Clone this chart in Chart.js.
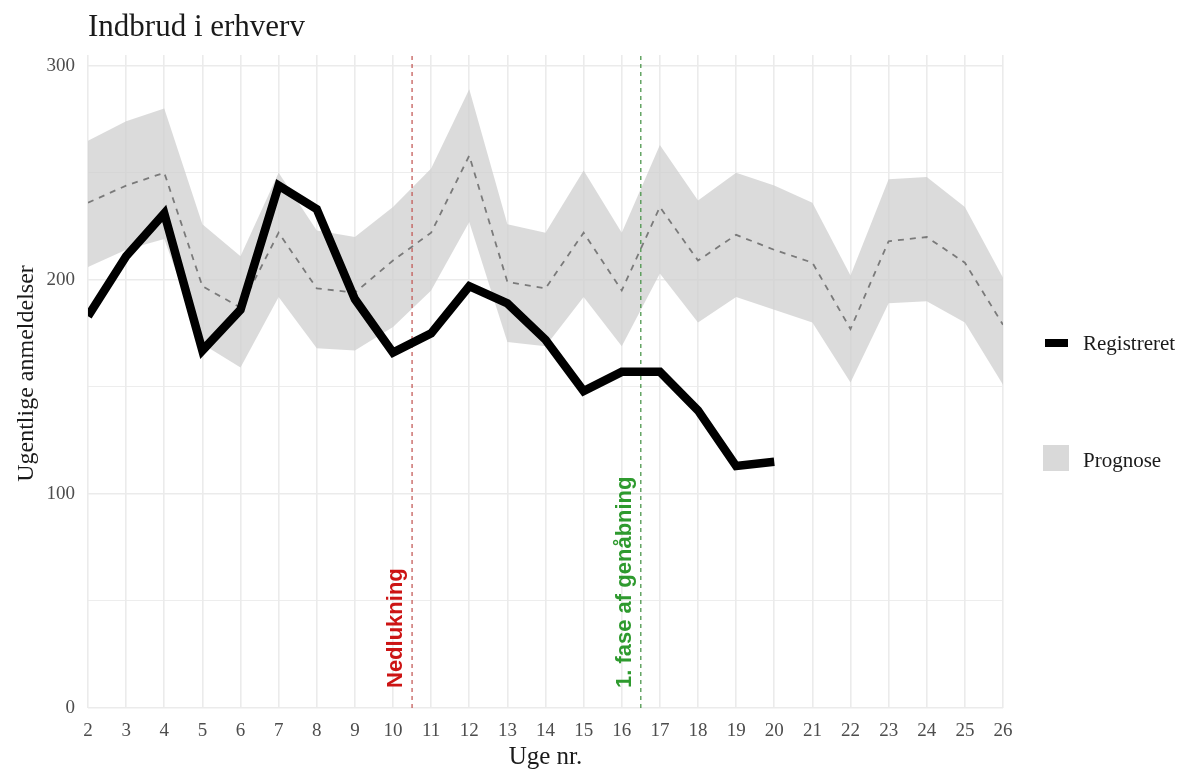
<!DOCTYPE html>
<html>
<head>
<meta charset="utf-8">
<title>Indbrud i erhverv</title>
<script src="https://cdn.jsdelivr.net/npm/chart.js@4.4.1/dist/chart.umd.min.js"></script>
<style>
    html, body { margin: 0; padding: 0; background: #ffffff; }
    #wrap { width: 1180px; height: 769px; }
</style>
</head>
<body>
<div id="wrap"><canvas id="chart" width="1180" height="769"></canvas></div>
<script>
// week numbers on the x axis
const weeks = [2, 3, 4, 5, 6, 7, 8, 9, 10, 11, 12, 13, 14, 15, 16, 17, 18, 19, 20, 21, 22, 23, 24, 25, 26];

// registered weekly reports (weeks 2-20)
const registered = [183, 211, 231, 167, 186, 244, 233, 191, 166, 175, 197, 189, 172, 148, 157, 157, 139, 113, 115];

// forecast (dashed) with its upper / lower band
const forecast = [236, 244, 250, 197, 187, 222, 196, 194, 209, 222, 258, 199, 196, 222, 195, 234, 209, 221, 214, 208, 177, 218, 220, 208, 179];
const upper    = [265, 274, 280, 226, 211, 250, 223, 220, 234, 252, 289, 226, 222, 251, 222, 263, 237, 250, 244, 236, 202, 247, 248, 234, 201];
const lower    = [206, 214, 219, 170, 159, 192, 168, 167, 178, 195, 227, 171, 169, 192, 169, 203, 180, 192, 186, 180, 152, 189, 190, 180, 151];

// y axis ticks and range
const yTicks = [0, 50, 100, 150, 200, 250, 300];
const yMax = 305;

// event markers
const events = [
    { week: 10.5, label: 'Nedlukning', color: '#cc1414', line: '#c0504d' },
    { week: 16.5, label: '1. fase af genåbning', color: '#2e9a2e', line: '#3f8f3f' }
];

const serif = '"Liberation Serif", "Times New Roman", serif';
const sans = '"Liberation Sans", Arial, sans-serif';

function pts(values) {
    return values.map((v, i) => ({ x: weeks[i], y: v }));
}

const datasets = [
    {
        label: 'Registreret',
        data: pts(registered),
        borderColor: '#000000',
        borderWidth: 8.5,
        borderJoinStyle: 'miter',
        borderCapStyle: 'butt',
        pointRadius: 0,
        fill: false,
        order: 0
    },
    {
        label: 'forecast',
        data: pts(forecast),
        borderColor: '#7a7a7a',
        borderWidth: 1.8,
        borderDash: [6, 6],
        pointRadius: 0,
        fill: false,
        order: 1
    },
    {
        label: 'upper',
        data: pts(upper),
        borderWidth: 0,
        borderColor: 'rgba(0,0,0,0)',
        backgroundColor: 'rgba(205,205,205,0.72)',
        pointRadius: 0,
        fill: '+1',
        order: 4
    },
    {
        label: 'lower',
        data: pts(lower),
        borderWidth: 0,
        borderColor: 'rgba(0,0,0,0)',
        pointRadius: 0,
        fill: false,
        order: 5
    }
];

events.forEach(ev => {
    datasets.push({
        label: ev.label,
        data: [{ x: ev.week, y: 0 }, { x: ev.week, y: yMax }],
        borderColor: ev.line,
        borderWidth: 1.2,
        borderDash: [4, 4],
        pointRadius: 0,
        fill: false,
        order: 2
    });
});

const decorations = {
    id: 'decorations',
    afterDraw(chart) {
        const ctx = chart.ctx;
        const area = chart.chartArea;
        const xs = chart.scales.x;
        const ys = chart.scales.y;
        ctx.save();

        // title
        ctx.fillStyle = '#1a1a1a';
        ctx.font = '31px ' + serif;
        ctx.textAlign = 'left';
        ctx.textBaseline = 'alphabetic';
        ctx.fillText('Indbrud i erhverv', 88, 36);

        // axis titles
        ctx.font = '25px ' + serif;
        ctx.textAlign = 'center';
        ctx.fillText('Uge nr.', (area.left + area.right) / 2, 764);
        ctx.save();
        ctx.font = '24px ' + serif;
        ctx.translate(33, (area.top + area.bottom) / 2 - 8);
        ctx.rotate(-Math.PI / 2);
        ctx.textBaseline = 'alphabetic';
        ctx.fillText('Ugentlige anmeldelser', 0, 0);
        ctx.restore();

        // event labels
        ctx.font = 'bold 22px ' + sans;
        events.forEach(ev => {
            const px = xs.getPixelForValue(ev.week) - 16;
            const py = ys.getPixelForValue(0) - 20;
            ctx.save();
            ctx.translate(px, py);
            ctx.rotate(-Math.PI / 2);
            ctx.fillStyle = ev.color;
            ctx.textAlign = 'left';
            ctx.textBaseline = 'middle';
            ctx.fillText(ev.label, 0, 0);
            ctx.restore();
        });

        // legend
        ctx.fillStyle = '#000000';
        ctx.fillRect(1045, 339, 23, 8);
        ctx.fillStyle = '#d9d9d9';
        ctx.fillRect(1043, 445, 26, 26);
        ctx.fillStyle = '#1a1a1a';
        ctx.font = '21px ' + serif;
        ctx.textAlign = 'left';
        ctx.textBaseline = 'middle';
        ctx.fillText('Registreret', 1083, 344);
        ctx.fillText('Prognose', 1083, 461);

        ctx.restore();
    }
};

new Chart(document.getElementById('chart'), {
    type: 'line',
    data: { datasets },
    options: {
        responsive: false,
        animation: false,
        devicePixelRatio: 1,
        layout: { padding: { top: 55, right: 177, left: 0, bottom: 0 } },
        plugins: {
            legend: { display: false },
            title: { display: false },
            tooltip: { enabled: false }
        },
        scales: {
            x: {
                type: 'linear',
                min: weeks[0],
                max: weeks[weeks.length - 1],
                afterBuildTicks: scale => { scale.ticks = weeks.map(w => ({ value: w })); },
                afterFit: scale => { scale.height = 61; },
                border: { display: false },
                grid: { color: '#ebebeb', lineWidth: 1.6, drawTicks: false },
                ticks: {
                    padding: 12,
                    maxRotation: 0,
                    autoSkip: false,
                    color: '#4d4d4d',
                    font: { family: serif, size: 19 }
                }
            },
            y: {
                min: 0,
                max: yMax,
                afterBuildTicks: scale => { scale.ticks = yTicks.map(v => ({ value: v })); },
                afterFit: scale => { scale.width = 88; },
                border: { display: false },
                grid: {
                    color: '#ebebeb',
                    lineWidth: c => (c.tick && c.tick.value % 100 === 0) ? 1.6 : 0.9,
                    drawTicks: false
                },
                ticks: {
                    padding: 13,
                    color: '#4d4d4d',
                    font: { family: serif, size: 19 },
                    callback: v => (v % 100 === 0 ? v : '')
                }
            }
        }
    },
    plugins: [decorations]
});
</script>
</body>
</html>
